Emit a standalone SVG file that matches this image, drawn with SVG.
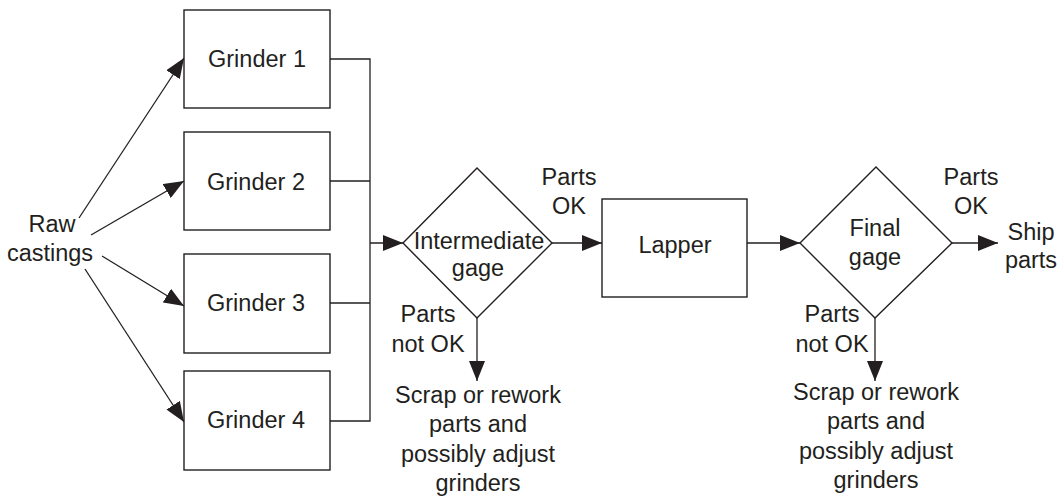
<svg xmlns="http://www.w3.org/2000/svg" width="1064" height="496" viewBox="0 0 1064 496">
  <style>
    .box { fill: #ffffff; stroke: #231f20; stroke-width: 1.4; }
    .line { fill: none; stroke: #231f20; stroke-width: 1.3; }
    .arrow { fill: none; stroke: #231f20; stroke-width: 1.3; marker-end: url(#head); }
    text { font-family: "Liberation Sans", Arial, sans-serif; font-size: 23.5px; fill: #231f20; text-anchor: middle; }
  </style>
  <defs>
    <marker id="head" markerUnits="userSpaceOnUse" markerWidth="20" markerHeight="16" refX="20" refY="8" orient="auto">
      <path d="M0,0 L20,8 L0,16 Z" fill="#231f20"/>
    </marker>
  </defs>

  <rect width="1064" height="496" fill="#ffffff"/>

  <!-- connectors -->
  <g id="connectors">
    <line class="arrow" x1="79" y1="218" x2="184" y2="58"/>
    <line class="arrow" x1="91" y1="235" x2="184" y2="181"/>
    <line class="arrow" x1="102" y1="256" x2="184" y2="306"/>
    <line class="arrow" x1="85" y1="269" x2="184" y2="422"/>
    <polyline class="line" points="330,59 370,59 370,421 330,421"/>
    <line class="line" x1="330" y1="181" x2="370" y2="181"/>
    <line class="line" x1="330" y1="303" x2="370" y2="303"/>
    <line class="arrow" x1="370" y1="243" x2="403" y2="243"/>
    <line class="arrow" x1="552" y1="243" x2="602" y2="243"/>
    <line class="arrow" x1="477" y1="318" x2="477" y2="381"/>
    <line class="arrow" x1="747" y1="243" x2="800" y2="243"/>
    <line class="arrow" x1="952" y1="243" x2="998" y2="243"/>
    <line class="arrow" x1="875" y1="318" x2="875" y2="381"/>
  </g>

  <g id="raw-castings">
    <text x="52" y="232">Raw</text>
    <text x="50" y="261">castings</text>
  </g>

  <g id="grinder1">
    <rect class="box" x="184" y="10" width="146" height="98"/>
    <text x="257" y="67">Grinder 1</text>
  </g>
  <g id="grinder2">
    <rect class="box" x="184" y="132" width="146" height="98"/>
    <text x="256" y="190">Grinder 2</text>
  </g>
  <g id="grinder3">
    <rect class="box" x="184" y="254" width="146" height="99"/>
    <text x="256" y="311">Grinder 3</text>
  </g>
  <g id="grinder4">
    <rect class="box" x="184" y="371" width="146" height="99"/>
    <text x="256" y="428">Grinder 4</text>
  </g>

  <g id="intermediate-gage">
    <polygon class="box" points="477,168 552,243 477,318 403,243"/>
    <text x="479" y="249">Intermediate</text>
    <text x="478" y="276">gage</text>
  </g>

  <g id="intermediate-ok">
    <text x="569" y="185">Parts</text>
    <text x="569" y="214">OK</text>
  </g>
  <g id="intermediate-not-ok">
    <text x="428" y="322">Parts</text>
    <text x="428" y="352">not OK</text>
  </g>
  <g id="scrap-1">
    <text x="478" y="403">Scrap or rework</text>
    <text x="478" y="432">parts and</text>
    <text x="478" y="462">possibly adjust</text>
    <text x="478" y="491">grinders</text>
  </g>

  <g id="lapper">
    <rect class="box" x="602" y="199" width="145" height="98"/>
    <text x="675" y="253">Lapper</text>
  </g>

  <g id="final-gage">
    <polygon class="box" points="876,167 952,243 875,318 800,243"/>
    <text x="875" y="236">Final</text>
    <text x="875" y="265">gage</text>
  </g>

  <g id="final-ok">
    <text x="971" y="185">Parts</text>
    <text x="971" y="214">OK</text>
  </g>
  <g id="ship-parts">
    <text x="1031" y="240">Ship</text>
    <text x="1031" y="268">parts</text>
  </g>
  <g id="final-not-ok">
    <text x="832" y="322">Parts</text>
    <text x="832" y="352">not OK</text>
  </g>
  <g id="scrap-2">
    <text x="876" y="400">Scrap or rework</text>
    <text x="876" y="429">parts and</text>
    <text x="876" y="459">possibly adjust</text>
    <text x="876" y="488">grinders</text>
  </g>
</svg>
